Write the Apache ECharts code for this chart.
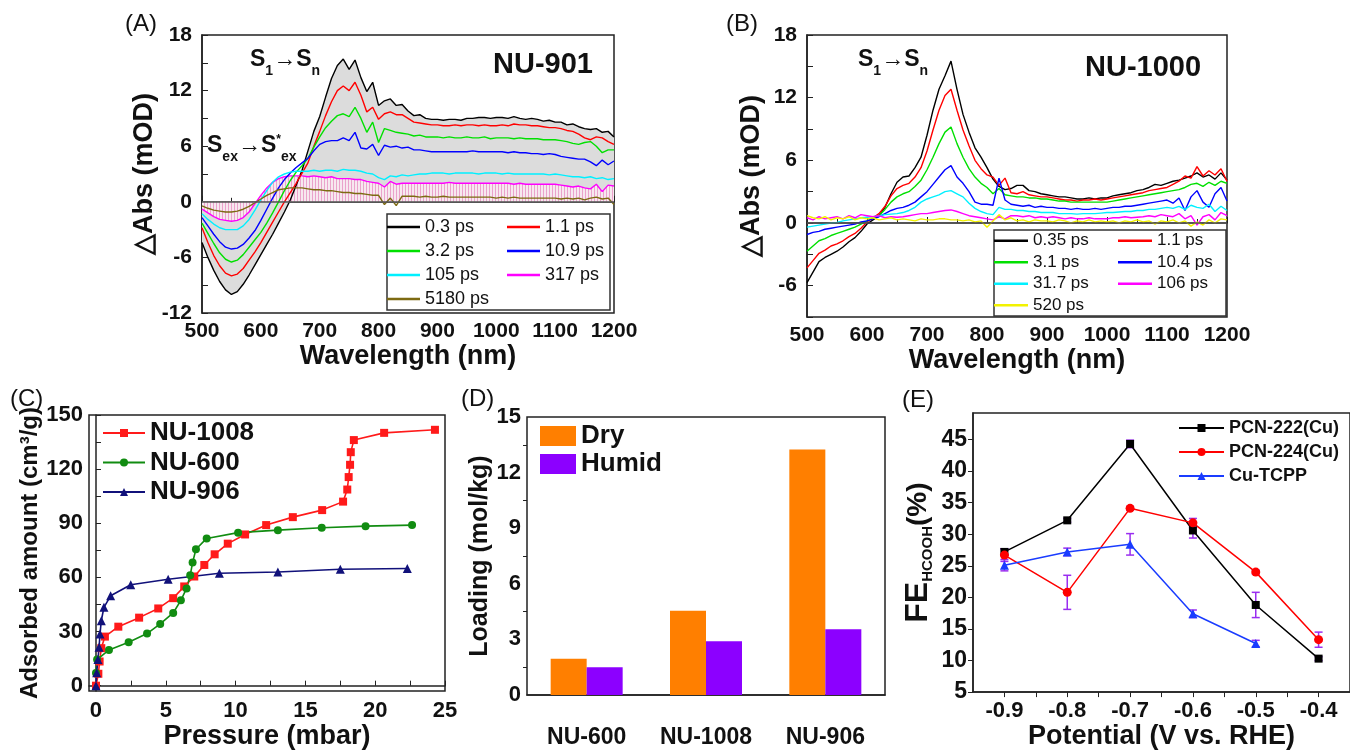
<!DOCTYPE html>
<html>
<head>
<meta charset="utf-8">
<title>MOF figure</title>
<script src="https://cdn.jsdelivr.net/npm/echarts@6/dist/echarts.min.js"></script>
<style>
  html, body { margin: 0; padding: 0; background: #fff; }
  #main { width: 1350px; height: 751px; }
</style>
</head>
<body>
<div id="main"></div>
<script>
// ---- (A) NU-901 transient absorption, mOD ----
var WL = [500,510,520,530,540,550,560,570,580,590,
          600,610,620,630,640,650,660,670,680,690,
          700,710,720,730,740,750,760,770,780,790,
          800,810,820,830,840,850,860,870,880,890,
          900,910,920,930,940,950,960,970,980,990,
          1000,1010,1020,1030,1040,1050,1060,1070,1080,1090,
          1100,1110,1120,1130,1140,1150,1160,1170,1180,1190,1200];

var A_03 = [-4.4,-6.0,-7.4,-8.6,-9.5,-10.0,-9.7,-8.9,-7.9,-6.8,
            -5.7,-4.6,-3.5,-2.3,-1.1,0.2,1.8,3.4,5.5,7.6,
            9.2,11.3,13.3,14.7,15.4,14.3,15.3,13.4,11.9,12.9,
            10.4,10.9,11.1,10.4,10.5,9.8,9.3,9.4,9.0,8.9,
            8.9,8.8,8.9,8.9,8.8,9.0,9.0,9.1,9.1,9.0,
            9.1,9.1,9.0,9.2,9.0,8.9,9.0,8.9,8.7,8.8,
            8.6,8.6,8.3,8.4,8.1,7.9,7.8,7.9,7.5,7.6,7.0];
var A_11 = [-2.8,-4.4,-5.8,-6.9,-7.7,-8.0,-7.8,-7.2,-6.3,-5.4,
            -4.4,-3.3,-2.2,-1.1,0.0,1.0,2.0,3.1,4.2,6.0,
            7.6,9.3,10.8,12.0,12.5,12.0,12.9,11.5,9.7,10.2,
            8.9,9.5,9.7,9.4,9.4,9.0,8.6,8.5,8.4,8.3,
            8.3,8.2,8.2,8.3,8.2,8.3,8.3,8.2,8.3,8.2,
            8.2,8.3,8.2,8.4,8.3,8.3,8.2,8.2,8.1,8.0,
            8.0,7.9,7.7,7.6,7.3,6.9,6.7,7.0,6.9,6.5,6.2];
var A_32 = [-2.3,-3.4,-4.5,-5.5,-6.2,-6.5,-6.3,-5.7,-4.9,-4.1,
            -3.3,-2.3,-1.2,0.0,1.2,2.3,3.2,3.9,4.7,5.9,
            7.0,8.0,8.7,9.3,9.5,9.2,10.2,9.0,7.5,8.6,
            6.4,7.9,7.7,7.5,7.4,7.3,7.1,7.2,7.0,7.0,
            7.0,6.9,7.0,6.9,6.9,7.0,6.9,6.9,7.0,6.8,
            6.9,6.9,6.9,6.8,6.9,6.8,6.8,6.8,6.7,6.7,
            6.7,6.6,6.5,6.3,6.2,6.4,6.5,6.0,5.3,5.6,5.6];
var A_109 = [-1.7,-2.6,-3.5,-4.3,-4.9,-5.1,-5.0,-4.6,-3.9,-3.1,
             -2.0,-0.8,0.4,1.5,2.4,3.1,3.7,4.2,4.7,5.5,
             6.2,6.5,6.6,6.6,6.9,6.6,7.5,5.8,5.7,6.2,
             5.0,6.1,5.9,6.0,5.8,5.9,5.6,5.6,5.5,5.4,
             5.4,5.4,5.4,5.4,5.4,5.4,5.5,5.4,5.4,5.4,
             5.4,5.4,5.3,5.4,5.3,5.3,5.2,5.2,5.1,5.2,
             5.1,4.9,4.8,4.7,4.6,4.6,4.3,3.9,4.5,4.0,4.4];
var A_105 = [-1.3,-1.9,-2.4,-2.8,-3.0,-3.0,-3.0,-2.6,-1.9,-0.9,
             0.2,1.2,2.1,2.7,3.0,3.2,3.3,3.3,3.3,3.4,
             3.3,3.4,3.4,3.3,3.5,3.4,3.4,3.3,3.1,3.0,
             2.6,2.4,2.8,2.7,2.9,2.8,2.9,3.0,3.0,3.1,
             3.1,3.1,3.0,3.1,3.1,3.1,3.1,3.0,3.1,3.1,
             3.1,3.0,3.1,3.0,3.0,3.0,3.0,3.0,3.0,2.9,
             3.0,2.9,2.8,2.7,2.7,2.6,2.7,2.5,2.6,2.4,2.5];
var A_317 = [-0.8,-1.2,-1.6,-1.9,-2.0,-2.1,-2.0,-1.7,-1.1,-0.2,
             0.7,1.5,2.1,2.5,2.7,2.8,2.8,2.8,2.7,2.8,
             2.7,2.6,2.7,2.5,2.5,2.5,2.4,2.4,2.2,2.1,
             2.0,1.6,2.2,1.9,2.0,2.0,2.0,2.0,2.0,2.0,
             2.0,2.0,2.1,2.0,2.0,2.0,2.0,2.0,2.0,2.0,
             2.0,2.0,2.0,1.9,2.0,1.9,1.9,1.9,1.9,1.9,
             1.9,1.8,1.7,1.6,1.7,1.5,1.4,1.9,1.1,1.8,1.7];
var A_5180 = [-0.45,-0.7,-0.9,-1.0,-1.1,-1.1,-1.0,-0.8,-0.5,-0.1,
              0.3,0.7,1.0,1.3,1.4,1.5,1.5,1.5,1.4,1.3,
              1.3,1.2,1.2,1.1,1.0,1.0,0.9,0.9,0.8,0.7,
              0.7,-0.3,0.4,-0.4,0.6,0.6,0.6,0.5,0.6,0.5,
              0.5,0.6,0.5,0.5,0.5,0.5,0.5,0.5,0.5,0.5,
              0.4,0.5,0.4,0.5,0.4,0.4,0.4,0.4,0.4,0.4,
              0.4,0.3,0.4,0.3,0.4,0.2,0.4,0.5,0.3,0.4,-0.3];

// ---- (B) NU-1000 transient absorption, mOD ----
var B_035 = [-5.7,-4.7,-3.7,-3.3,-3.0,-2.7,-2.3,-1.8,-1.4,-0.8,
             -0.1,0.3,0.7,1.5,2.8,3.9,4.4,4.5,5.3,6.3,
             8.4,10.8,12.8,14.1,15.5,12.8,10.4,8.7,7.2,6.3,
             5.3,4.2,3.5,3.2,3.3,3.6,3.6,3.1,3.0,2.8,
             2.7,2.6,2.5,2.5,2.4,2.3,2.3,2.4,2.3,2.4,
             2.4,2.6,2.7,2.8,2.9,3.1,3.2,3.4,3.7,3.6,
             3.8,4.0,4.1,4.3,4.5,4.8,4.4,4.6,4.2,4.8,4.1];
var B_11 = [-4.3,-3.6,-2.9,-2.6,-2.2,-2.0,-1.7,-1.3,-1.0,-0.5,
            0.1,0.5,0.9,1.6,2.6,3.3,3.6,3.8,4.4,5.3,
            6.9,8.9,10.8,12.2,12.8,10.8,8.9,7.4,6.0,5.2,
            4.6,4.4,3.6,4.3,2.9,2.8,3.0,2.7,2.6,2.5,
            2.5,2.4,2.3,2.2,2.2,2.1,2.2,2.2,2.3,2.2,
            2.3,2.4,2.5,2.6,2.7,2.8,2.9,3.1,3.2,3.3,
            3.4,3.7,4.0,4.5,4.3,5.4,4.5,5.0,4.6,5.2,4.0];
var B_31 = [-2.7,-2.2,-1.7,-1.5,-1.2,-1.0,-0.8,-0.6,-0.4,-0.1,
            0.2,0.5,0.7,1.3,2.0,2.5,2.8,3.0,3.5,4.1,
            5.1,6.3,7.6,8.7,9.2,7.6,6.3,5.2,4.4,3.8,
            3.4,2.8,3.3,2.7,2.6,2.5,2.5,2.4,2.4,2.3,
            2.3,2.2,2.1,2.1,2.0,2.0,2.0,2.0,2.0,2.0,
            2.0,2.1,2.2,2.3,2.4,2.5,2.6,2.7,2.8,2.9,
            3.0,3.1,3.2,3.4,3.7,3.8,3.5,3.9,3.6,4.0,3.8];
var B_104 = [-1.1,-0.9,-0.8,-0.6,-0.5,-0.4,-0.3,-0.2,-0.1,0.1,
             0.2,0.4,0.6,0.9,1.2,1.4,1.5,1.7,2.0,2.5,
             3.0,3.7,4.4,5.1,5.5,4.4,3.8,3.0,2.0,1.8,
             1.8,1.7,4.3,2.2,1.8,1.7,1.6,1.7,1.5,1.6,
             1.5,1.5,1.4,1.4,1.3,1.4,1.3,1.3,1.4,1.3,
             1.4,1.5,1.5,1.6,1.6,1.7,1.8,1.9,2.0,2.1,
             2.2,1.9,2.4,1.2,2.5,3.1,2.0,1.5,2.8,3.4,2.1];
var B_317 = [-0.4,-0.3,-0.2,-0.1,0.0,0.05,0.2,0.3,0.4,0.5,
             0.55,0.6,0.7,0.8,0.85,0.9,1.0,1.2,1.5,2.0,
             2.3,2.5,2.7,3.0,3.1,2.8,2.5,1.9,1.4,1.1,
             0.9,0.8,1.5,1.3,1.3,1.2,1.2,1.1,1.1,1.0,
             1.0,1.0,0.9,0.9,0.9,0.85,0.9,0.9,0.9,0.95,
             1.0,1.0,1.05,1.1,1.1,1.2,1.2,1.3,1.3,1.4,
             1.5,1.4,1.6,1.3,1.7,1.5,1.4,1.8,1.1,1.6,1.2];
var B_106 = [0.5,0.3,0.6,0.4,0.5,0.6,0.4,0.7,0.5,0.8,
             0.7,0.6,0.7,0.5,0.6,0.55,0.6,0.7,0.8,0.9,
             0.9,1.0,1.1,1.2,1.25,1.1,0.9,0.7,0.6,0.5,
             0.4,0.3,0.6,0.4,0.7,0.7,0.6,0.7,0.5,0.6,
             0.5,0.6,0.5,0.4,0.5,0.4,0.4,0.5,0.4,0.4,
             0.4,0.5,0.5,0.6,0.5,0.55,0.6,0.7,0.6,0.8,
             0.7,0.6,0.9,0.4,0.7,-0.2,0.6,0.8,0.3,1.0,0.7];
var B_520 = [0.7,0.5,0.4,0.6,0.3,0.5,0.4,0.6,0.3,0.5,
             0.4,0.5,0.3,0.4,0.5,0.3,0.4,0.3,0.2,0.4,
             0.3,0.3,0.4,0.4,0.3,0.3,0.2,0.3,0.1,0.2,
             -0.4,0.2,0.8,0.3,0.5,0.2,0.3,0.1,0.3,0.2,
             0.2,0.1,0.3,0.2,0.0,0.2,0.1,0.3,0.1,0.2,
             0.1,0.2,0.0,0.2,0.1,0.3,0.1,0.2,-0.1,0.2,
             0.1,0.3,0.0,0.2,-0.3,0.1,-0.2,0.3,0.0,0.4,0.3];

// ---- (C) isotherms: pressure (mbar) / adsorbed (cm3/g) ----
var P_1008 = [0,0.17,0.26,0.38,0.64,1.6,3.09,4.46,5.53,6.32,7.04,7.76,8.5,9.44,10.68,12.19,14.1,16.2,17.7,18.0,18.1,18.2,18.25,18.47,20.64,24.28];
var Q_1008 = [0,6.6,13.4,20.8,27.2,32.7,37.7,42.8,48.5,55.0,60.5,66.9,72.8,78.7,83.8,89.0,93.4,97.3,102.0,108.7,115.6,122.4,129.4,136.1,140.1,141.8];
var P_600 = [0,0.08,0.93,2.34,3.66,4.6,5.53,6.08,6.49,6.75,6.92,7.16,7.93,10.18,13.03,16.17,19.31,22.64];
var Q_600 = [7.0,14.5,19.8,24.1,28.9,34.2,40.3,47.3,53.9,61.2,68.2,75.6,81.6,84.8,86.2,87.5,88.4,89.0];
var P_906 = [0,0.05,0.14,0.22,0.29,0.38,0.57,1.05,2.49,5.17,8.84,13.03,17.5,22.3];
var Q_906 = [0,7.2,14.5,21.3,28.7,36.0,43.4,49.8,55.9,59.0,62.3,63.0,64.5,64.9];

// ---- (D) loading (mol/kg) ----
var MOFS = ['NU-600', 'NU-1008', 'NU-906'];
var DRY = [1.95, 4.55, 13.25];
var HUMID = [1.5, 2.9, 3.55];

// ---- (E) FE of HCOOH (%) vs potential ----
var POT = [-0.9, -0.8, -0.7, -0.6, -0.5, -0.4];
var FE_222 = [27.2, 32.2, 44.3, 30.6, 18.8, 10.3];
var ERR_222 = [0.5, 0.3, 0.6, 1.2, 2.0, 0.3];
var FE_224 = [26.7, 20.8, 34.1, 31.8, 24.0, 13.3];
var ERR_224 = [1.0, 2.7, 0.3, 0.7, 0.3, 1.2];
var FE_TCPP = [25.1, 27.2, 28.4, 17.4, 12.7];
var ERR_TCPP = [0.9, 0.6, 1.7, 0.6, 0.5];

var FONT = 'Liberation Sans';

function pairs(xs, ys) {
  return ys.map(function (y, i) { return [xs[i], y]; });
}
function errData(xs, ys, es) {
  return ys.map(function (y, i) { return [xs[i], y - es[i], y + es[i]]; });
}
function plain(v) { return String(v); }

// pink striped fill used under the 317 ps trace
var hatch = document.createElement('canvas');
hatch.width = 3; hatch.height = 3;
var hctx = hatch.getContext('2d');
hctx.fillStyle = '#f7e8ef'; hctx.fillRect(0, 0, 3, 3);
hctx.fillStyle = '#eaa3cb'; hctx.fillRect(0, 0, 1, 3);

var myChart = echarts.init(document.getElementById('main'));

var gridStyle = { show: true, borderColor: '#222', borderWidth: 1.5, backgroundColor: 'transparent' };
function lbl(size, margin) {
  return { fontFamily: FONT, fontWeight: 'bold', fontSize: size, color: '#111', margin: margin };
}
function nameStyle(size) {
  return { fontFamily: FONT, fontWeight: 'bold', fontSize: size, color: '#111' };
}
var axLine = { lineStyle: { color: '#222', width: 1.5 } };

function spec(name, data, color, xi, extra) {
  var s = {
    name: name, type: 'line', xAxisIndex: xi, yAxisIndex: xi,
    data: pairs(WL, data), symbol: 'none', smooth: false,
    lineStyle: { color: color, width: 1.4 }, itemStyle: { color: color },
    emphasis: { disabled: true }, z: 2
  };
  for (var k in extra) s[k] = extra[k];
  return s;
}
var zeroLine = {
  silent: true, symbol: 'none', label: { show: false },
  lineStyle: { color: '#555', width: 1.5, type: 'solid' },
  data: [{ yAxis: 0 }]
};

function errSeries(name, xs, ys, es) {
  return {
    name: name + ' err', type: 'custom', xAxisIndex: 4, yAxisIndex: 4,
    data: errData(xs, ys, es), encode: { x: 0, y: [1, 2] }, z: 1,
    renderItem: function (params, api) {
      var lo = api.coord([api.value(0), api.value(1)]);
      var hi = api.coord([api.value(0), api.value(2)]);
      var st = { stroke: '#9a2df0', lineWidth: 1.5 };
      return {
        type: 'group', children: [
          { type: 'line', shape: { x1: lo[0], y1: lo[1], x2: hi[0], y2: hi[1] }, style: st },
          { type: 'line', shape: { x1: lo[0] - 4, y1: lo[1], x2: lo[0] + 4, y2: lo[1] }, style: st },
          { type: 'line', shape: { x1: hi[0] - 4, y1: hi[1], x2: hi[0] + 4, y2: hi[1] }, style: st }
        ]
      };
    }
  };
}

var legTxt = function (size, bold, lh) {
  return { fontFamily: FONT, fontSize: size, fontWeight: bold ? 'bold' : 'normal', color: '#111', lineHeight: lh };
};

var option = {
  backgroundColor: '#fff',
  animation: false,
  grid: [
    Object.assign({ left: 202, top: 35, width: 412, height: 278 }, gridStyle),
    Object.assign({ left: 807, top: 35, width: 420, height: 282 }, gridStyle),
    Object.assign({ left: 89, top: 415, width: 356, height: 277 }, gridStyle),
    Object.assign({ left: 527, top: 417, width: 358, height: 278 }, gridStyle),
    Object.assign({ left: 973, top: 413, width: 380, height: 282 }, gridStyle)
  ],
  xAxis: [
    { type: 'value', gridIndex: 0, min: 500, max: 1200, interval: 100,
      axisLine: axLine, axisTick: { inside: true, length: 6 }, minorTick: { show: true, splitNumber: 2, length: 4 },
      splitLine: { show: false }, axisLabel: Object.assign(lbl(21, 8), { formatter: plain }),
      name: 'Wavelength (nm)', nameLocation: 'middle', nameGap: 30, nameTextStyle: nameStyle(27) },
    { type: 'value', gridIndex: 1, min: 500, max: 1200, interval: 100,
      axisLine: axLine, axisTick: { inside: true, length: 6 }, minorTick: { show: true, splitNumber: 2, length: 4 },
      splitLine: { show: false }, axisLabel: Object.assign(lbl(21, 8), { formatter: plain }),
      name: 'Wavelength (nm)', nameLocation: 'middle', nameGap: 26, nameTextStyle: nameStyle(27) },
    { type: 'value', gridIndex: 2, min: -0.5, max: 25,
      axisLine: axLine,
      axisTick: { inside: true, length: 5, customValues: [0, 2.5, 5, 7.5, 10, 12.5, 15, 17.5, 20, 22.5, 25] },
      splitLine: { show: false },
      axisLabel: Object.assign(lbl(22, 9), { customValues: [0, 5, 10, 15, 20, 25] }),
      name: 'Pressure (mbar)', nameLocation: 'middle', nameGap: 31, nameTextStyle: nameStyle(27) },
    { type: 'category', gridIndex: 3, data: MOFS,
      axisLine: axLine, axisTick: { show: false }, axisLabel: Object.assign(lbl(23, 31), { interval: 0 }) },
    { type: 'value', gridIndex: 4, min: -0.95, max: -0.35,
      axisLine: axLine,
      axisTick: { length: 5, customValues: [-0.9, -0.85, -0.8, -0.75, -0.7, -0.65, -0.6, -0.55, -0.5, -0.45, -0.4] },
      splitLine: { show: false },
      axisLabel: Object.assign(lbl(22, 8), { customValues: POT, formatter: function (v) { return v.toFixed(1); } }),
      name: 'Potential (V vs. RHE)', nameLocation: 'middle', nameGap: 29, nameTextStyle: nameStyle(27) }
  ],
  yAxis: [
    { type: 'value', gridIndex: 0, min: -12, max: 18,
      axisLine: axLine,
      axisTick: { inside: true, length: 6, customValues: [-12, -9, -6, -3, 0, 3, 6, 9, 12, 15, 18] },
      splitLine: { show: false },
      axisLabel: Object.assign(lbl(21, 10), { customValues: [-12, -6, 0, 6, 12, 18] }),
      name: '\u25B3Abs (mOD)', nameLocation: 'middle', nameGap: 38, nameTextStyle: nameStyle(27) },
    { type: 'value', gridIndex: 1, min: -9, max: 18,
      axisLine: axLine,
      axisTick: { inside: true, length: 6, customValues: [-9, -6, -3, 0, 3, 6, 9, 12, 15, 18] },
      splitLine: { show: false },
      axisLabel: Object.assign(lbl(21, 10), { customValues: [-6, 0, 6, 12, 18] }),
      name: '\u25B3Abs (mOD)', nameLocation: 'middle', nameGap: 42, nameTextStyle: nameStyle(27) },
    { type: 'value', gridIndex: 2, min: -3, max: 150,
      axisLine: axLine,
      axisTick: { inside: true, length: 5, customValues: [0, 15, 30, 45, 60, 75, 90, 105, 120, 135, 150] },
      splitLine: { show: false },
      axisLabel: Object.assign(lbl(22, 6), { customValues: [0, 30, 60, 90, 120, 150] }),
      name: 'Adsorbed amount (cm\u00B3/g)', nameLocation: 'middle', nameGap: 41, nameTextStyle: nameStyle(24) },
    { type: 'value', gridIndex: 3, min: 0, max: 15, interval: 3,
      axisLine: axLine, axisTick: { length: 5 }, minorTick: { show: true, splitNumber: 2, length: 4 },
      splitLine: { show: false }, axisLabel: lbl(22, 6),
      name: 'Loading (mol/kg)', nameLocation: 'middle', nameGap: 30, nameTextStyle: nameStyle(25) },
    { type: 'value', gridIndex: 4, min: 5, max: 49.2,
      axisLine: axLine,
      axisTick: { length: 5, customValues: [5, 10, 15, 20, 25, 30, 35, 40, 45] },
      splitLine: { show: false },
      axisLabel: Object.assign(lbl(23, 6), { customValues: [5, 10, 15, 20, 25, 30, 35, 40, 45] }),
      name: '{fe|FE}{sub|HCOOH}{pc|(%)}', nameLocation: 'middle', nameGap: 38,
      nameTextStyle: {
        fontFamily: FONT, fontWeight: 'bold', color: '#111',
        rich: {
          fe: { fontFamily: FONT, fontWeight: 'bold', fontSize: 32, color: '#111', lineHeight: 34 },
          sub: { fontFamily: FONT, fontWeight: 'bold', fontSize: 15, color: '#111', verticalAlign: 'bottom', lineHeight: 34, padding: [14, 0, 0, 0] },
          pc: { fontFamily: FONT, fontWeight: 'bold', fontSize: 28, color: '#111', lineHeight: 34 }
        }
      } }
  ],
  legend: [
    { data: ['0.3 ps', '3.2 ps', '105 ps', '5180 ps'], orient: 'vertical', left: 387, top: 218, padding: 0,
      icon: 'rect', itemWidth: 33, itemHeight: 2.5, itemGap: 6, textStyle: legTxt(18, false, 18), selectedMode: false },
    { data: ['1.1 ps', '10.9 ps', '317 ps'], orient: 'vertical', left: 507, top: 218, padding: 0,
      icon: 'rect', itemWidth: 33, itemHeight: 2.5, itemGap: 6, textStyle: legTxt(18, false, 18), selectedMode: false },
    { data: ['0.35 ps', '3.1 ps', '31.7 ps', '520 ps'], orient: 'vertical', left: 994, top: 232, padding: 0,
      icon: 'rect', itemWidth: 34, itemHeight: 2.5, itemGap: 4, textStyle: legTxt(17, false, 17.5), selectedMode: false },
    { data: ['1.1 ps ', '10.4 ps', '106 ps'], orient: 'vertical', left: 1118, top: 232, padding: 0,
      icon: 'rect', itemWidth: 34, itemHeight: 2.5, itemGap: 4, textStyle: legTxt(17, false, 17.5), selectedMode: false },
    { data: ['NU-1008', 'NU-600', 'NU-906'], orient: 'vertical', left: 102, top: 420, padding: 0,
      itemWidth: 42, itemHeight: 10, itemGap: 3.5, textStyle: legTxt(26, true, 26), selectedMode: false },
    { data: ['Dry', 'Humid'], orient: 'vertical', left: 540, top: 423, padding: 0,
      icon: 'rect', itemWidth: 36, itemHeight: 20, itemGap: 2, textStyle: legTxt(26, true, 20), selectedMode: false },
    { data: ['PCN-222(Cu)', 'PCN-224(Cu)', 'Cu-TCPP'], orient: 'vertical', left: 1178, top: 419, padding: 0,
      itemWidth: 45, itemHeight: 10, itemGap: 6, textStyle: legTxt(18, true, 18), selectedMode: false }
  ],
  graphic: [
    { type: 'rect', z: 3, shape: { x: 387, y: 214, width: 223, height: 96 }, style: { fill: '#fff', stroke: '#333', lineWidth: 1.5 } },
    { type: 'rect', z: 3, shape: { x: 994, y: 230, width: 232, height: 86 }, style: { fill: '#fff', stroke: '#333', lineWidth: 1.5 } },
    { type: 'text', x: 125, y: 12, style: { text: '(A)', font: '24px "Liberation Sans"', fill: '#111' } },
    { type: 'text', x: 726, y: 12, style: { text: '(B)', font: '24px "Liberation Sans"', fill: '#111' } },
    { type: 'text', x: 10, y: 387, style: { text: '(C)', font: '24px "Liberation Sans"', fill: '#111' } },
    { type: 'text', x: 461, y: 387, style: { text: '(D)', font: '24px "Liberation Sans"', fill: '#111' } },
    { type: 'text', x: 902, y: 388, style: { text: '(E)', font: '24px "Liberation Sans"', fill: '#111' } },
    { type: 'text', x: 493, y: 50, z: 5, style: { text: 'NU-901', font: 'bold 29px "Liberation Sans"', fill: '#111' } },
    { type: 'text', x: 1085, y: 53, z: 5, style: { text: 'NU-1000', font: 'bold 29px "Liberation Sans"', fill: '#111' } },
    { type: 'text', x: 250, y: 48, z: 5, style: {
        text: '{b|S}{s|1}{b|\u2192S}{s|n}',
        rich: { b: { fontFamily: FONT, fontWeight: 'bold', fontSize: 23, fill: '#111', lineHeight: 30, verticalAlign: 'top' },
                s: { fontFamily: FONT, fontWeight: 'bold', fontSize: 14, fill: '#111', lineHeight: 30, verticalAlign: 'bottom' } } } },
    { type: 'text', x: 858, y: 48, z: 5, style: {
        text: '{b|S}{s|1}{b|\u2192S}{s|n}',
        rich: { b: { fontFamily: FONT, fontWeight: 'bold', fontSize: 23, fill: '#111', lineHeight: 30, verticalAlign: 'top' },
                s: { fontFamily: FONT, fontWeight: 'bold', fontSize: 14, fill: '#111', lineHeight: 30, verticalAlign: 'bottom' } } } },
    { type: 'text', x: 207, y: 134, z: 5, style: {
        text: '{b|S}{s|ex}{b|\u2192S}{p|*}{s|ex}',
        rich: { b: { fontFamily: FONT, fontWeight: 'bold', fontSize: 23, fill: '#111', lineHeight: 30, verticalAlign: 'top' },
                s: { fontFamily: FONT, fontWeight: 'bold', fontSize: 14, fill: '#111', lineHeight: 30, verticalAlign: 'bottom' },
                p: { fontFamily: FONT, fontWeight: 'bold', fontSize: 12, fill: '#111', lineHeight: 30, verticalAlign: 'top' } } } }
  ],
  series: [
    // (A)
    spec('0.3 ps', A_03, '#000000', 0, { z: 1, areaStyle: { color: '#dcdcdc', opacity: 1 } }),
    spec('1.1 ps', A_11, '#ff0000', 0, {}),
    spec('3.2 ps', A_32, '#00e000', 0, {}),
    spec('10.9 ps', A_109, '#0000ff', 0, {}),
    spec('105 ps', A_105, '#00f0ff', 0, {}),
    spec('317 ps', A_317, '#ff00ff', 0, { z: 1, areaStyle: { color: { image: hatch, repeat: 'repeat' }, opacity: 1 } }),
    spec('5180 ps', A_5180, '#7d6a12', 0, { markLine: zeroLine }),
    // (B)
    spec('0.35 ps', B_035, '#000000', 1, { markLine: zeroLine }),
    spec('1.1 ps ', B_11, '#ff0000', 1, {}),
    spec('3.1 ps', B_31, '#00e000', 1, {}),
    spec('10.4 ps', B_104, '#0000ff', 1, {}),
    spec('31.7 ps', B_317, '#00f0ff', 1, {}),
    spec('106 ps', B_106, '#ff00ff', 1, {}),
    spec('520 ps', B_520, '#f2f200', 1, {}),
    // (C)
    { name: 'NU-1008', type: 'line', xAxisIndex: 2, yAxisIndex: 2, data: pairs(P_1008, Q_1008),
      symbol: 'rect', symbolSize: 8, lineStyle: { color: '#ff1a1a', width: 1.6 }, itemStyle: { color: '#ff1a1a' } },
    { name: 'NU-600', type: 'line', xAxisIndex: 2, yAxisIndex: 2, data: pairs(P_600, Q_600),
      symbol: 'circle', symbolSize: 8, lineStyle: { color: '#118c11', width: 1.6 }, itemStyle: { color: '#118c11' } },
    { name: 'NU-906', type: 'line', xAxisIndex: 2, yAxisIndex: 2, data: pairs(P_906, Q_906),
      symbol: 'triangle', symbolSize: 9, lineStyle: { color: '#11117a', width: 1.6 }, itemStyle: { color: '#11117a' } },
    // (D)
    { name: 'Dry', type: 'bar', xAxisIndex: 3, yAxisIndex: 3, data: DRY, barWidth: 36, barGap: '0%',
      itemStyle: { color: '#ff7f00' } },
    { name: 'Humid', type: 'bar', xAxisIndex: 3, yAxisIndex: 3, data: HUMID, barWidth: 36, barGap: '0%',
      itemStyle: { color: '#8c00ff' } },
    // (E)
    errSeries('PCN-222(Cu)', POT, FE_222, ERR_222),
    errSeries('PCN-224(Cu)', POT, FE_224, ERR_224),
    errSeries('Cu-TCPP', POT, FE_TCPP, ERR_TCPP),
    { name: 'PCN-222(Cu)', type: 'line', xAxisIndex: 4, yAxisIndex: 4, data: pairs(POT, FE_222),
      symbol: 'rect', symbolSize: 8, lineStyle: { color: '#000', width: 1.5 }, itemStyle: { color: '#000' } },
    { name: 'PCN-224(Cu)', type: 'line', xAxisIndex: 4, yAxisIndex: 4, data: pairs(POT, FE_224),
      symbol: 'circle', symbolSize: 9, lineStyle: { color: '#ff0000', width: 1.5 }, itemStyle: { color: '#ff0000' } },
    { name: 'Cu-TCPP', type: 'line', xAxisIndex: 4, yAxisIndex: 4, data: pairs(POT, FE_TCPP),
      symbol: 'triangle', symbolSize: 9, lineStyle: { color: '#1a3cff', width: 1.5 }, itemStyle: { color: '#1a3cff' } }
  ]
};

myChart.setOption(option);
</script>
</body>
</html>
